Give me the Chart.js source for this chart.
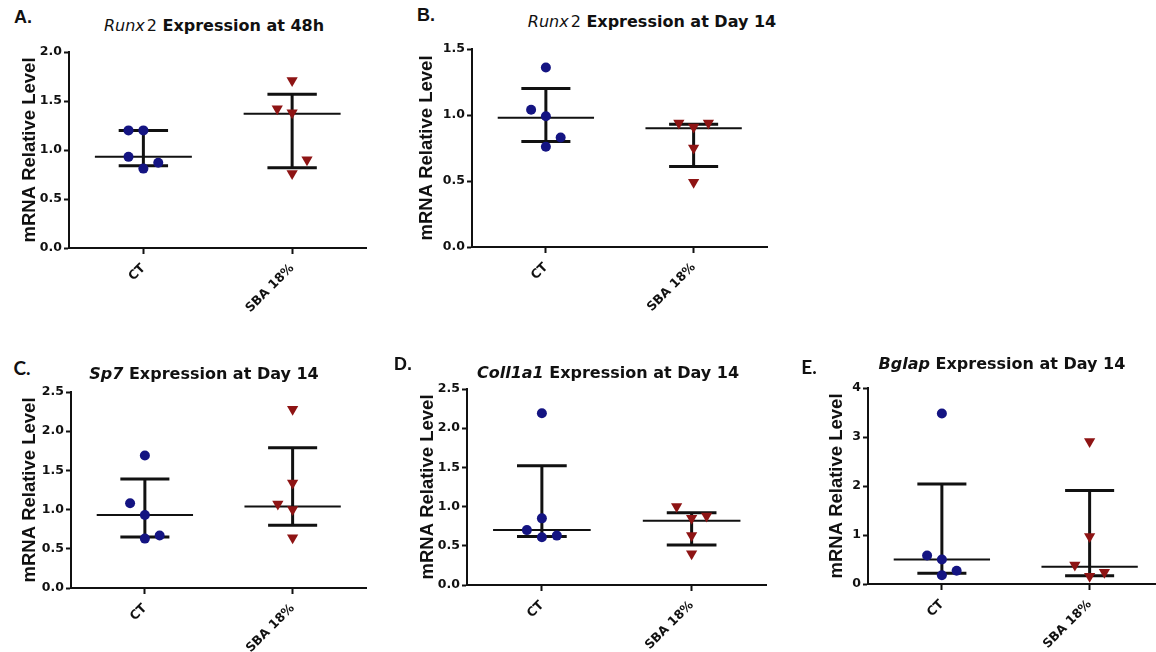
<!DOCTYPE html>
<html><head><meta charset="utf-8">
<script src="https://cdn.jsdelivr.net/npm/chart.js@4.4.1/dist/chart.umd.min.js"></script>
<style>
html,body{margin:0;padding:0;background:#fff;width:1156px;height:652px;overflow:hidden;position:relative;}
canvas{position:absolute;}
.lbl{position:absolute;transform:translate(-50%,-50%);white-space:nowrap;color:#111;}
.letter{font:bold 18px "Liberation Sans",Arial,sans-serif;}
.letter.cal{font:bold 19px Lato,"Liberation Sans",sans-serif;}
.title{font:bold 16px "DejaVu Sans",sans-serif;}
.title i{font-style:italic;}
.title i.lt{font-weight:normal;}
.title span.n{font-weight:normal;margin-left:2px;}
</style></head><body>
<script>
// ---------- data ----------
const categories = ['CT', 'SBA 18%'];
const yAxisTitle = 'mRNA Relative Level';

// A. Runx2 at 48h
const aCT = [1.20, 1.20, 0.93, 0.81, 0.87];
const aSBA = [1.71, 1.42, 1.38, 0.90, 0.76];
const aMedian = [0.93, 1.37];
const aLow = [0.84, 0.82];
const aHigh = [1.20, 1.57];
const aTicks = [0, 0.5, 1.0, 1.5, 2.0];
const aColsCT = [0, -1, -1, 0, 1];
const aColsSBA = [0, -1, 0, 1, 0];

// B. Runx2 at Day 14
const bCT = [1.36, 1.04, 0.99, 0.83, 0.76];
const bSBA = [0.94, 0.91, 0.94, 0.75, 0.49];
const bMedian = [0.98, 0.90];
const bLow = [0.80, 0.61];
const bHigh = [1.20, 0.93];
const bTicks = [0, 0.5, 1.0, 1.5];
const bColsCT = [0, -1, 0, 1, 0];
const bColsSBA = [-1, 0, 1, 0, 0];

// C. Sp7 at Day 14
const cCT = [1.69, 1.08, 0.93, 0.63, 0.67];
const cSBA = [2.28, 1.34, 1.07, 1.00, 0.64];
const cMedian = [0.93, 1.04];
const cLow = [0.65, 0.80];
const cHigh = [1.39, 1.79];
const cTicks = [0, 0.5, 1.0, 1.5, 2.0, 2.5];
const cColsCT = [0, -1, 0, 0, 1];
const cColsSBA = [0, 0, -1, 0, 0];

// D. Coll1a1 at Day 14
const dCT = [2.19, 0.85, 0.70, 0.61, 0.63];
const dSBA = [1.00, 0.85, 0.88, 0.63, 0.40];
const dMedian = [0.70, 0.82];
const dLow = [0.62, 0.51];
const dHigh = [1.52, 0.92];
const dTicks = [0, 0.5, 1.0, 1.5, 2.0, 2.5];
const dColsCT = [0, 0, -1, 0, 1];
const dColsSBA = [-1, 0, 1, 0, 0];

// E. Bglap at Day 14
const eCT = [3.48, 0.58, 0.50, 0.18, 0.27];
const eSBA = [2.91, 0.97, 0.39, 0.16, 0.24];
const eMedian = [0.50, 0.35];
const eLow = [0.22, 0.17];
const eHigh = [2.04, 1.91];
const eTicks = [0, 1, 2, 3, 4];
const eColsCT = [0, -1, 0, 0, 1];
const eColsSBA = [0, 0, -1, 0, 1];

// ---------- layout & style ----------
const SWARM_STEP = 0.1, MED_HW = 0.326, CAP_HW = 0.166;
const BLUE = '#141482', RED = '#8e1414', INK = '#111';
const tickFont = {family: 'DejaVu Sans', size: 12.5, weight: 'bold'};
const axTitleFont = {family: 'Liberation Sans', size: 18.5, weight: 'bold', lineHeight: 1.2};

const panels = [
  {ct: aCT, sba: aSBA, med: aMedian, lo: aLow, hi: aHigh, ticks: aTicks, dec: 1, colsCT: aColsCT, colsSBA: aColsSBA,
   plot: {l: 69, t: 52, r: 367, b: 248}, yTitleX: 30,
   letter: {x: 23, y: 17, text: 'A.', cls: ''},
   title: {x: 214, y: 25, html: '<i class="lt">Runx</i><span class="n">2</span> Expression at 48h'}},
  {ct: bCT, sba: bSBA, med: bMedian, lo: bLow, hi: bHigh, ticks: bTicks, dec: 1, colsCT: bColsCT, colsSBA: bColsSBA,
   plot: {l: 472, t: 49, r: 768, b: 247}, yTitleX: 427,
   letter: {x: 426, y: 15, text: 'B.', cls: ''},
   title: {x: 652, y: 21, html: '<i class="lt">Runx</i><span class="n">2</span> Expression at Day 14'}},
  {ct: cCT, sba: cSBA, med: cMedian, lo: cLow, hi: cHigh, ticks: cTicks, dec: 1, colsCT: cColsCT, colsSBA: cColsSBA,
   plot: {l: 71, t: 392, r: 367, b: 588}, yTitleX: 30,
   letter: {x: 22, y: 367, text: 'C.', cls: 'cal'},
   title: {x: 204, y: 373, html: '<i>Sp7</i> Expression at Day 14'}},
  {ct: dCT, sba: dSBA, med: dMedian, lo: dLow, hi: dHigh, ticks: dTicks, dec: 1, colsCT: dColsCT, colsSBA: dColsSBA,
   plot: {l: 467, t: 389, r: 767, b: 585}, yTitleX: 428,
   letter: {x: 403, y: 364, text: 'D.', cls: ''},
   title: {x: 608, y: 372, html: '<i>Coll1a1</i> Expression at Day 14'}},
  {ct: eCT, sba: eSBA, med: eMedian, lo: eLow, hi: eHigh, ticks: eTicks, dec: 0, colsCT: eColsCT, colsSBA: eColsSBA,
   plot: {l: 868, t: 388, r: 1164, b: 584}, yTitleX: 837,
   letter: {x: 809, y: 366, text: 'E.', cls: 'cal'},
   title: {x: 1002, y: 363, html: '<i>Bglap</i> Expression at Day 14'}}
];

function swarm(vals, cols, center) {
  return vals.map((v, i) => ({x: center + cols[i] * SWARM_STEP, y: v}));
}
function hseg(c, y, hw) { return [{x: c - hw, y}, {x: c + hw, y}]; }
const gap = (x) => ({x, y: null});

function addText(cls, x, y, html) {
  const d = document.createElement('div');
  d.className = 'lbl ' + cls;
  d.style.left = x + 'px';
  d.style.top = y + 'px';
  d.innerHTML = html;
  document.body.appendChild(d);
}

panels.forEach((p) => {
  const {l, t, r, b} = p.plot;
  const half = axTitleFont.size * axTitleFont.lineHeight / 2;
  const cLeft = Math.floor(p.yTitleX - half - 4);
  const padLeft = p.yTitleX - half - cLeft;
  const cTop = t - 12, padTop = 12;
  const xAxisH = 70;
  const cW = r - cLeft + 6, cH = (b - cTop) + xAxisH;
  const yAxisW = l - (cLeft + padLeft);

  const cv = document.createElement('canvas');
  cv.width = cW; cv.height = cH;
  cv.style.left = cLeft + 'px'; cv.style.top = cTop + 'px';
  cv.style.width = cW + 'px'; cv.style.height = cH + 'px';
  document.body.appendChild(cv);

  const medData = [], errData = [];
  p.med.forEach((m, i) => {
    const c = i + 0.5;
    medData.push(...hseg(c, m, MED_HW), gap(c + 0.5));
    errData.push(...hseg(c, p.hi[i], CAP_HW), gap(c),
                 {x: c, y: p.hi[i]}, {x: c, y: p.lo[i]}, gap(c),
                 ...hseg(c, p.lo[i], CAP_HW), gap(c + 0.5));
  });

  new Chart(cv, {
    type: 'scatter',
    data: {
      datasets: [
        {data: swarm(p.ct, p.colsCT, 0.5), pointStyle: 'circle', pointRadius: 5, pointHoverRadius: 5,
         backgroundColor: BLUE, borderColor: BLUE, borderWidth: 0, order: 0},
        {data: swarm(p.sba, p.colsSBA, 1.5), pointStyle: 'triangle', rotation: 180, pointRadius: 6.5, pointHoverRadius: 6.5,
         backgroundColor: RED, borderColor: RED, borderWidth: 0, order: 0},
        {data: medData, showLine: true, spanGaps: false, pointRadius: 0, pointHoverRadius: 0,
         borderColor: INK, borderWidth: 2, borderCapStyle: 'butt', order: 2},
        {data: errData, showLine: true, spanGaps: false, pointRadius: 0, pointHoverRadius: 0,
         borderColor: INK, borderWidth: 3, borderCapStyle: 'butt', order: 1}
      ]
    },
    options: {
      responsive: false, animation: false, devicePixelRatio: 1,
      layout: {padding: {left: padLeft, top: padTop, right: 6, bottom: 0}},
      plugins: {legend: {display: false}, tooltip: {enabled: false}},
      events: [],
      scales: {
        x: {
          type: 'linear', min: 0, max: 2,
          grid: {drawOnChartArea: false, drawTicks: true, tickLength: 6, tickWidth: 2, color: INK},
          border: {display: true, color: INK, width: 2},
          afterBuildTicks: (s) => { s.ticks = categories.map((c, i) => ({value: i + 0.5})); },
          afterFit: (s) => { s.height = xAxisH; },
          ticks: {autoSkip: false, minRotation: 45, maxRotation: 45, padding: 7, color: INK, font: tickFont,
                  callback: (v, i) => categories[i]}
        },
        y: {
          type: 'linear', min: p.ticks[0], max: p.ticks[p.ticks.length - 1],
          grid: {drawOnChartArea: false, drawTicks: true, tickLength: 5, tickWidth: 2, color: INK},
          border: {display: true, color: INK, width: 2},
          afterBuildTicks: (s) => { s.ticks = p.ticks.map((v) => ({value: v})); },
          afterFit: (s) => { s.width = yAxisW; },
          ticks: {padding: 2, color: INK, font: tickFont,
                  callback: (v) => Number(v).toFixed(p.dec)},
          title: {display: true, text: yAxisTitle, color: INK, font: axTitleFont, padding: {top: 0, bottom: 0}}
        }
      }
    }
  });

  addText('letter ' + p.letter.cls, p.letter.x, p.letter.y, p.letter.text);
  addText('title', p.title.x, p.title.y, p.title.html);
});
</script>
</body></html>
